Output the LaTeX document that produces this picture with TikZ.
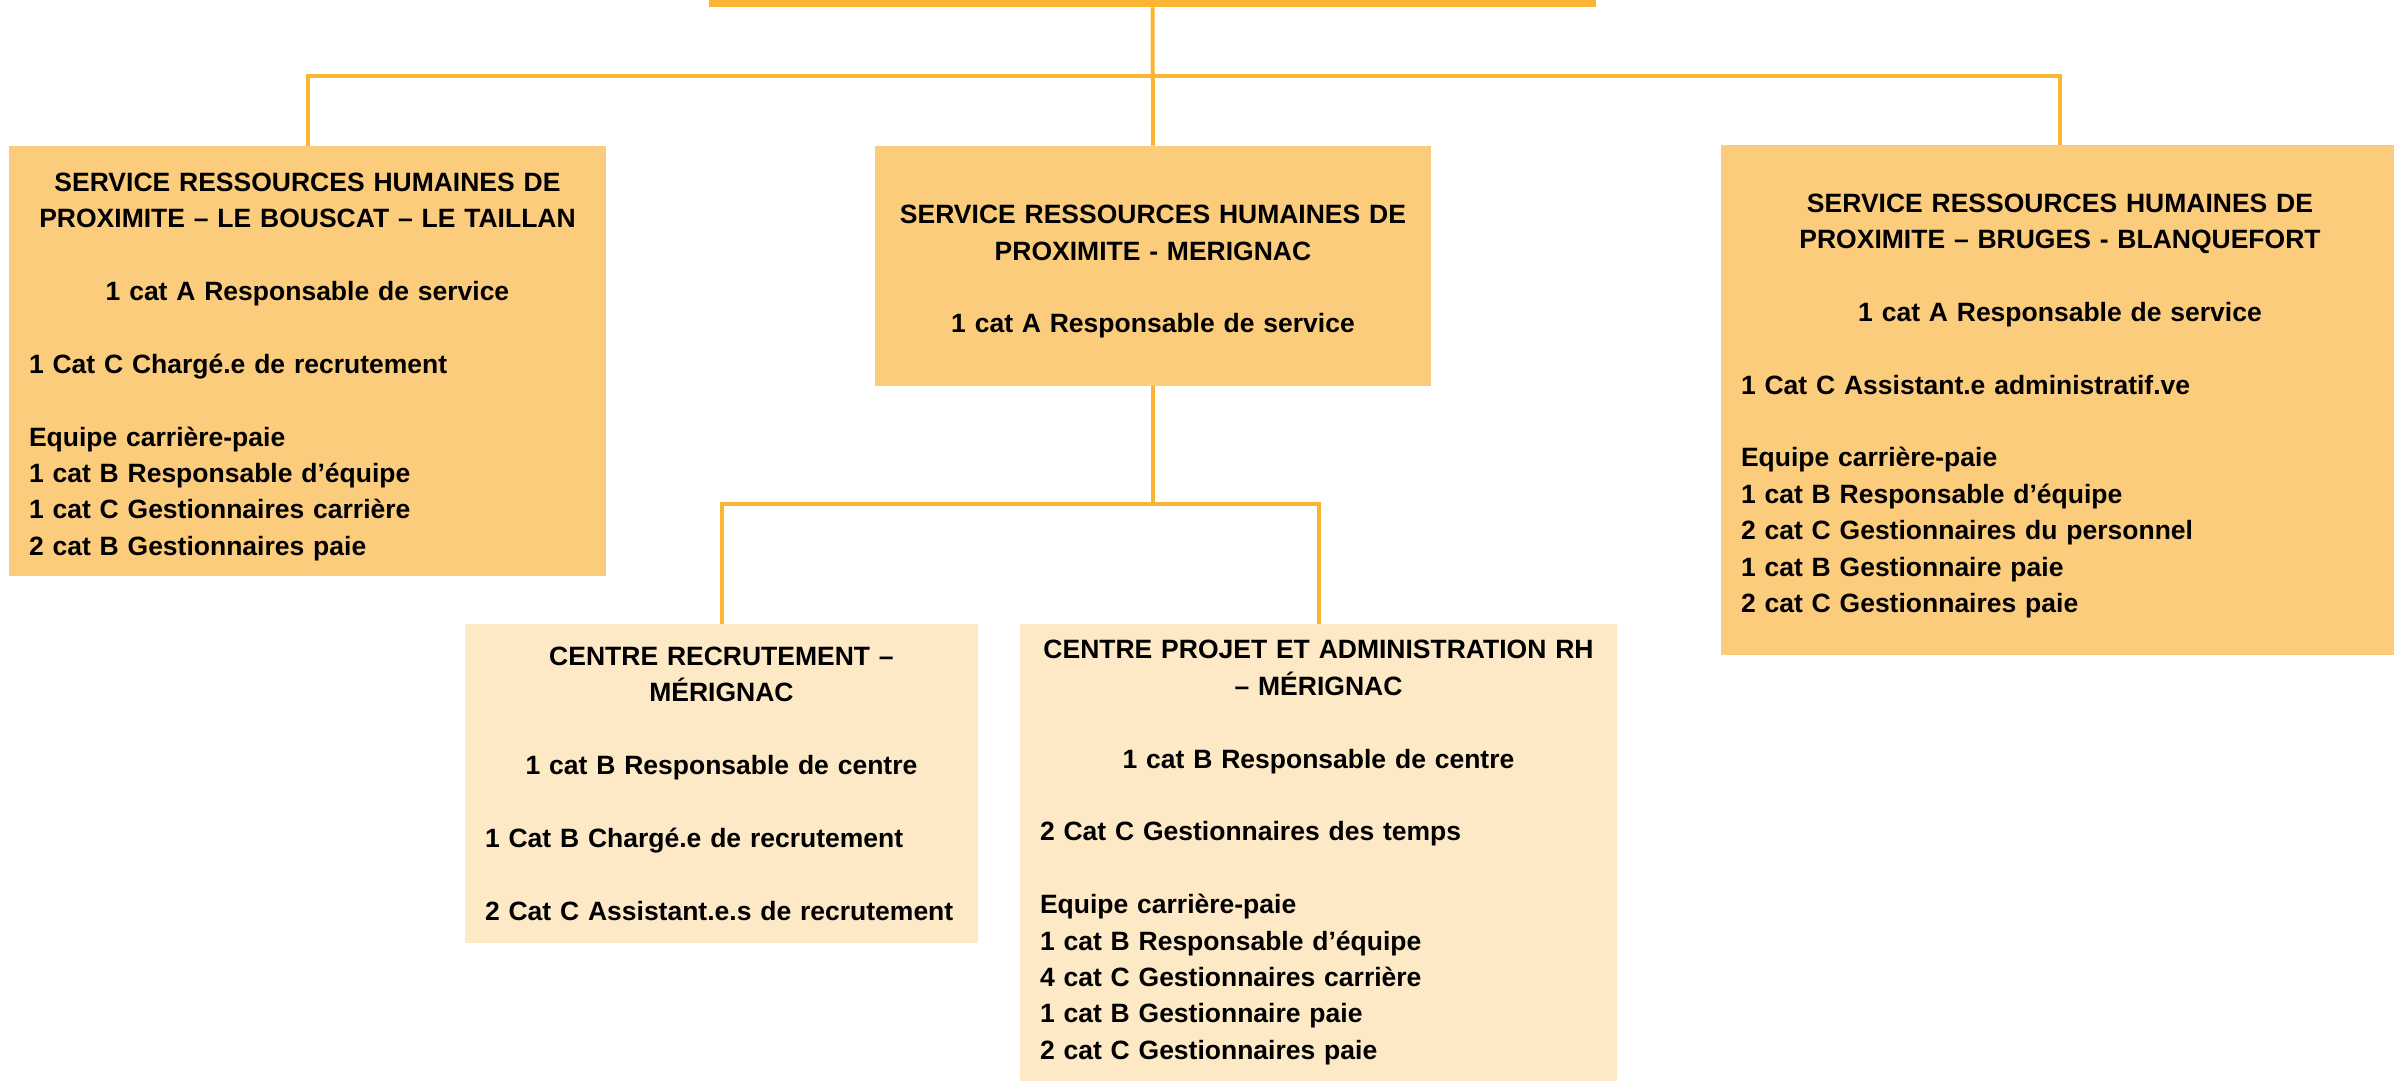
\documentclass[tikz,border=0pt]{standalone}
\usepackage{fontspec}
\setmainfont{Liberation Sans}
\usetikzlibrary{positioning}
\definecolor{rhline}{HTML}{FBB434}
\definecolor{rhsvc}{HTML}{FCCC7D}
\definecolor{rhctr}{HTML}{FDE9C6}
\tikzstyle{rhbox} = [rectangle, inner xsep=10pt, inner ysep=0pt, font=\bfseries\fontsize{13.25pt}{18.2pt}\selectfont]
\tikzstyle{svc} = [rhbox, fill=rhsvc, execute at begin node=\rule{0pt}{15pt}]
\tikzstyle{ctr} = [rhbox, fill=rhctr]
\tikzstyle{link} = [draw=rhline, line width=2pt]
\def\skipline{\endgraf\vspace{18.2pt}}

\begin{document}
\begin{tikzpicture}[x=0.5pt,y=-0.5pt]
      \useasboundingbox (0,0) rectangle (2394,1081);
      %%%%%%%%%%%%%%%%%%%%%%%%%%%%%%%%%%%%%%%
      % boxes
      \draw (1152.5,0) node (top) [fill=rhline, minimum width=443.5pt, minimum height=7pt, inner sep=0pt] {};
      \draw (307.5,361) node (bouscat) [svc, text width=278.5pt, minimum height=215pt] {%
        \centering SERVICE RESSOURCES HUMAINES DE\par
        PROXIMITE – LE BOUSCAT – LE TAILLAN\skipline
        1 cat A Responsable de service\skipline
        \raggedright 1 Cat C Chargé.e de recrutement\skipline
        Equipe carrière-paie\par
        1 cat B Responsable d’équipe\par
        1 cat C Gestionnaires carrière\par
        2 cat B Gestionnaires paie\par};
      \draw (1153,266) node (merignac) [svc, text width=258pt, minimum height=120pt] {%
        \centering SERVICE RESSOURCES HUMAINES DE\par
        PROXIMITE - MERIGNAC\skipline
        1 cat A Responsable de service\par};
      \draw (2060,400) node (bruges) [svc, text width=319pt, minimum height=255pt] {%
        \centering SERVICE RESSOURCES HUMAINES DE\par
        PROXIMITE – BRUGES - BLANQUEFORT\skipline
        1 cat A Responsable de service\skipline
        \raggedright 1 Cat C Assistant.e administratif.ve\skipline
        Equipe carrière-paie\par
        1 cat B Responsable d’équipe\par
        2 cat C Gestionnaires du personnel\par
        1 cat B Gestionnaire paie\par
        2 cat C Gestionnaires paie\par};
      \draw (721.5,783.5) node (recrut) [ctr, text width=236.5pt, minimum height=159.5pt] {%
        \centering CENTRE RECRUTEMENT –\par
        MÉRIGNAC\skipline
        1 cat B Responsable de centre\skipline
        \raggedright 1 Cat B Chargé.e de recrutement\skipline
        2 Cat C Assistant.e.s de recrutement\par};
      \draw (1318.5,852.5) node (projet) [ctr, text width=278.5pt, minimum height=228.5pt] {%
        \centering CENTRE PROJET ET ADMINISTRATION RH\par
        – MÉRIGNAC\skipline
        1 cat B Responsable de centre\skipline
        \raggedright 2 Cat C Gestionnaires des temps\skipline
        Equipe carrière-paie\par
        1 cat B Responsable d’équipe\par
        4 cat C Gestionnaires carrière\par
        1 cat B Gestionnaire paie\par
        2 cat C Gestionnaires paie\par};
      %%%%%%%%%%%%%%%%%%%%%%%%%%%%%%%%%%%%%%%
      % links
      \coordinate (bus) at (1153,76.5);
      \coordinate (fork) at (1153,504);
      \draw[link] (top.south)--(merignac.north);
      \draw[link] (bouscat.north) |- (bus) -| (bruges.north);
      \draw[link] (merignac.south)--(fork);
      \draw[link] (recrut.north) |- (fork) -| (projet.north);
\end{tikzpicture}
\end{document}
